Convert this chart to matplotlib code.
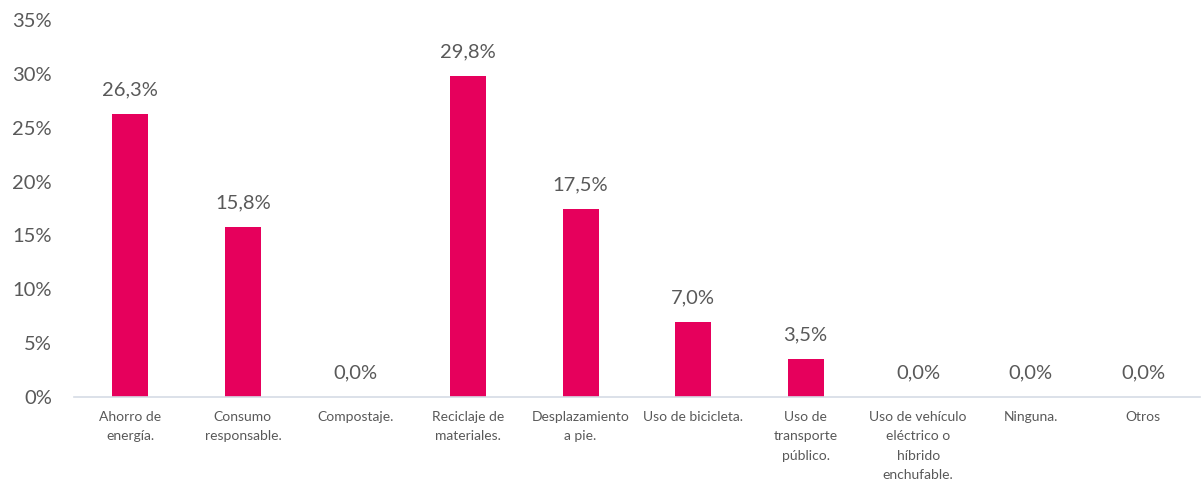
import matplotlib
matplotlib.use("Agg")
import matplotlib.pyplot as plt
from matplotlib.ticker import FuncFormatter

categories = ["Ahorro de\nenergía.", "Consumo\nresponsable.", "Compostaje.",
              "Reciclaje de\nmateriales.", "Desplazamiento\na pie.", "Uso de bicicleta.",
              "Uso de\ntransporte\npúblico.", "Uso de vehículo\neléctrico o\nhíbrido\nenchufable.",
              "Ninguna.", "Otros"]
values = [26.3, 15.8, 0.0, 29.8, 17.5, 7.0, 3.5, 0.0, 0.0, 0.0]
yticks = [0, 5, 10, 15, 20, 25, 30, 35]

plt.rcParams['font.family'] = ['Lato', 'DejaVu Sans']
text_color = "#595959"
bar_color = "#E6005C"

fig = plt.figure(figsize=(12.02, 4.87), dpi=100)
ax = fig.add_axes([0.0616, 0.1848, 0.9364, 0.774])
x = list(range(len(categories)))
ax.bar(x, values, width=0.32, color=bar_color, zorder=2)
for xi, v in zip(x, values):
    ax.text(xi, v + 1.45, f"{v:.1f}%".replace(".", ","), ha="center", va="bottom",
            fontsize=14.5, color=text_color)
ax.set_xlim(-0.5, len(categories) - 0.5)
ax.set_ylim(0, 35)
ax.set_yticks(yticks)
ax.yaxis.set_major_formatter(FuncFormatter(lambda v, p: f"{int(v)}%"))
ax.set_xticks(x)
ax.set_xticklabels(categories, fontsize=10, color=text_color, linespacing=1.75, va="top")
for lab in ax.get_yticklabels():
    lab.set_fontsize(14.5)
    lab.set_color(text_color)
ax.tick_params(axis="both", length=0)
ax.tick_params(axis="y", pad=16)
ax.tick_params(axis="x", pad=10)
for s in ["top", "right", "left"]:
    ax.spines[s].set_visible(False)
ax.spines["bottom"].set_color("#D6DCE5")
ax.spines["bottom"].set_linewidth(1.2)
fig.savefig("out.png", dpi=100)
